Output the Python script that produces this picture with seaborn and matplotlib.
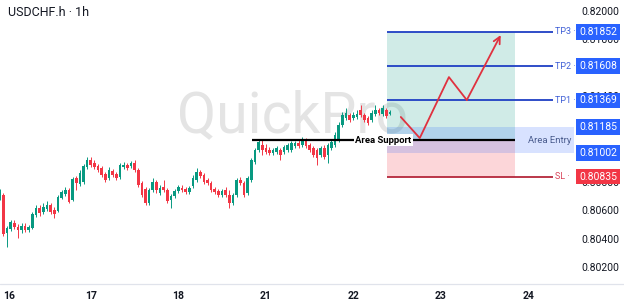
import numpy as np
import pandas as pd
import matplotlib
matplotlib.use("Agg")
import matplotlib.pyplot as plt
import matplotlib.transforms as mtransforms
from matplotlib.lines import Line2D
import seaborn as sns

# chart data (hourly candles, hour 0 = start of day 16)
title = "USDCHF.h · 1h"
day_ticks = [0, 24, 48, 72, 96, 120, 144]
day_labels = ["16", "17", "18", "21", "22", "23", "24"]
# 0.810 / 0.812 / 0.816 sit fully under the price tags, so they are left out
price_ticks = [0.802, 0.804, 0.806, 0.808, 0.814, 0.818, 0.820]

opens = [
    0.80684, 0.80705, 0.80438, 0.80466, 0.80509, 0.80481, 0.80459, 0.80488, 0.80459, 0.80474,
    0.80565, 0.80614, 0.80586, 0.80607, 0.80635, 0.80600, 0.80593, 0.80684, 0.80712, 0.80740,
    0.80670, 0.80824, 0.80782, 0.80796, 0.80902, 0.80951, 0.80930, 0.80909, 0.80895, 0.80853,
    0.80824, 0.80874, 0.80853, 0.80832, 0.80902, 0.80916, 0.80909, 0.80930, 0.80881, 0.80789,
    0.80747, 0.80649, 0.80740, 0.80796, 0.80719, 0.80761, 0.80740, 0.80670, 0.80698, 0.80733,
    0.80754, 0.80747, 0.80726, 0.80768, 0.80810, 0.80867, 0.80846, 0.80810, 0.80789, 0.80747,
    0.80733, 0.80705, 0.80740, 0.80705, 0.80649, 0.80705, 0.80810, 0.80789, 0.80719, 0.80810,
    0.80937, 0.81021, 0.81056, 0.81035, 0.81021, 0.81000, 0.81007, 0.81021, 0.81007, 0.81021,
    0.81021, 0.81049, 0.81070, 0.81056, 0.81091, 0.81056, 0.81035, 0.81021, 0.80986, 0.81035,
    0.80986, 0.81035, 0.81056, 0.81091, 0.81197, 0.81246, 0.81267, 0.81246, 0.81253, 0.81302,
    0.81267, 0.81246, 0.81232, 0.81274, 0.81302, 0.81274, 0.81302, 0.81274,
]
closes = [
    0.80726, 0.80431, 0.80474, 0.80516, 0.80481, 0.80459, 0.80488, 0.80459, 0.80481, 0.80572,
    0.80614, 0.80579, 0.80621, 0.80635, 0.80586, 0.80572, 0.80691, 0.80726, 0.80740, 0.80656,
    0.80817, 0.80789, 0.80860, 0.80909, 0.80951, 0.80916, 0.80902, 0.80881, 0.80846, 0.80810,
    0.80881, 0.80846, 0.80824, 0.80916, 0.80916, 0.80895, 0.80930, 0.80881, 0.80775, 0.80705,
    0.80649, 0.80740, 0.80796, 0.80740, 0.80754, 0.80740, 0.80663, 0.80698, 0.80733, 0.80761,
    0.80740, 0.80726, 0.80754, 0.80824, 0.80867, 0.80839, 0.80796, 0.80789, 0.80740, 0.80726,
    0.80705, 0.80733, 0.80705, 0.80649, 0.80705, 0.80810, 0.80789, 0.80705, 0.80824, 0.80951,
    0.81021, 0.81077, 0.81021, 0.81007, 0.81000, 0.81021, 0.81035, 0.80986, 0.81042, 0.81056,
    0.81070, 0.81070, 0.81049, 0.81091, 0.81049, 0.81021, 0.80986, 0.80965, 0.81035, 0.80972,
    0.81056, 0.81077, 0.81126, 0.81197, 0.81267, 0.81281, 0.81232, 0.81267, 0.81274, 0.81267,
    0.81232, 0.81211, 0.81281, 0.81302, 0.81281, 0.81316, 0.81260, 0.81288,
]
highs = [
    0.80747, 0.80719, 0.80488, 0.80530, 0.80530, 0.80502, 0.80509, 0.80509, 0.80495, 0.80586,
    0.80635, 0.80635, 0.80649, 0.80663, 0.80649, 0.80621, 0.80705, 0.80740, 0.80761, 0.80754,
    0.80832, 0.80839, 0.80881, 0.80923, 0.80972, 0.80972, 0.80951, 0.80923, 0.80909, 0.80867,
    0.80902, 0.80888, 0.80867, 0.80930, 0.80937, 0.80930, 0.80944, 0.80951, 0.80895, 0.80803,
    0.80761, 0.80754, 0.80824, 0.80810, 0.80775, 0.80810, 0.80754, 0.80712, 0.80747, 0.80775,
    0.80775, 0.80761, 0.80768, 0.80846, 0.80895, 0.80881, 0.80860, 0.80824, 0.80803, 0.80761,
    0.80747, 0.80747, 0.80761, 0.80740, 0.80719, 0.80824, 0.80832, 0.80803, 0.80839, 0.80965,
    0.81035, 0.81098, 0.81091, 0.81063, 0.81042, 0.81035, 0.81049, 0.81035, 0.81056, 0.81070,
    0.81084, 0.81084, 0.81091, 0.81112, 0.81105, 0.81070, 0.81049, 0.81035, 0.81049, 0.81056,
    0.81070, 0.81091, 0.81147, 0.81218, 0.81288, 0.81316, 0.81281, 0.81288, 0.81302, 0.81337,
    0.81281, 0.81260, 0.81302, 0.81337, 0.81316, 0.81337, 0.81316, 0.81302,
]
lows = [
    0.80670, 0.80417, 0.80340, 0.80452, 0.80466, 0.80403, 0.80438, 0.80445, 0.80445, 0.80466,
    0.80551, 0.80558, 0.80572, 0.80593, 0.80572, 0.80544, 0.80586, 0.80677, 0.80698, 0.80649,
    0.80663, 0.80740, 0.80768, 0.80782, 0.80888, 0.80902, 0.80888, 0.80867, 0.80832, 0.80796,
    0.80810, 0.80832, 0.80810, 0.80817, 0.80888, 0.80881, 0.80895, 0.80867, 0.80761, 0.80691,
    0.80635, 0.80635, 0.80726, 0.80719, 0.80705, 0.80726, 0.80649, 0.80614, 0.80684, 0.80719,
    0.80726, 0.80712, 0.80712, 0.80754, 0.80796, 0.80824, 0.80782, 0.80775, 0.80726, 0.80712,
    0.80691, 0.80691, 0.80691, 0.80614, 0.80635, 0.80691, 0.80775, 0.80691, 0.80705, 0.80796,
    0.80923, 0.81007, 0.80986, 0.80993, 0.80986, 0.80986, 0.80993, 0.80951, 0.80993, 0.81007,
    0.81007, 0.81035, 0.81035, 0.81042, 0.81035, 0.81007, 0.80972, 0.80916, 0.80972, 0.80958,
    0.80930, 0.81021, 0.81042, 0.81077, 0.81183, 0.81232, 0.81218, 0.81232, 0.81239, 0.81253,
    0.81218, 0.81197, 0.81218, 0.81260, 0.81267, 0.81260, 0.81246, 0.81267,
]
hours = np.arange(-1, len(opens) - 1)

# trade plan
entry_price = 0.81091
entry_top = 0.81185
entry_bottom = 0.81002
tp_names = ["TP1", "TP2", "TP3"]
tp_levels = [0.81369, 0.81608, 0.81852]
sl_level = 0.80835
plan_start, plan_end, label_end = 105.2, 140.3, 150.8
support_start = 68.2
path_hours = [109.0, 114.2, 122.2, 127.1, 136.4]
path_prices = [0.81253, 0.81105, 0.81533, 0.81372, 0.81828]

GREEN = "#089981"
RED = "#F23645"
BLUE = "#2962FF"

sns.set_theme(style="white")
plt.rcParams["font.family"] = ["Roboto", "DejaVu Sans"]

fig = plt.figure(figsize=(6.24, 3.05), dpi=100)
ax = fig.add_axes([0, 21 / 305, 574 / 624, 284 / 305])
ax.set_xlim(-0.9, 156.5)
ax.set_ylim(0.80081, 0.82074)

# watermark
ax.text(0.51, 0.59, "QuickPro", transform=ax.transAxes, ha="center", va="center",
        fontsize=41, color="#e4e4e4", zorder=0)

# candles
df = pd.DataFrame({"hour": hours, "open": opens, "close": closes, "high": highs, "low": lows})
colors = np.where(df["close"] >= df["open"], GREEN, RED)
body_low = df[["open", "close"]].min(axis=1)
body_h = (df["close"] - df["open"]).abs().clip(lower=0.00004)
ax.vlines(df["hour"], df["low"], df["high"], colors=colors, lw=0.7, zorder=3)
ax.bar(df["hour"], body_h, bottom=body_low, width=0.72, color=colors, lw=0, zorder=4)

# plan zones
ax.fill_between([plan_start, plan_end], entry_price, tp_levels[-1], color=GREEN, alpha=0.19, lw=0, zorder=1)
ax.fill_between([plan_start, plan_end], sl_level, entry_price, color=RED, alpha=0.2, lw=0, zorder=1)
ax.fill_between([plan_start, 156.5], entry_bottom, entry_top, color=BLUE, alpha=0.18, lw=0, zorder=1)

ax.hlines(tp_levels, plan_start, label_end, color="#1f3fc4", lw=1.3, zorder=5)
ax.hlines(sl_level, plan_start, label_end, color="#b5283b", lw=1.3, zorder=5)
ax.hlines(entry_price, support_start, plan_end, color="black", lw=1.6, zorder=5)
ax.text(104.2, entry_price, "Area Support", ha="center", va="center", fontsize=6.8,
        fontweight="bold", color="black", zorder=6,
        bbox=dict(boxstyle="square,pad=0.15", fc="white", ec="none"))
ax.text(149.9, entry_price, "Area Entry", ha="center", va="center", fontsize=6.8,
        color="#4b5d8f", zorder=6)

# expected path
sns.lineplot(x=path_hours[:-1], y=path_prices[:-1], ax=ax, color="#e0313f", lw=1.3, sort=False, zorder=7)
ax.annotate("", xy=(path_hours[-1], path_prices[-1]), xytext=(path_hours[-2], path_prices[-2]),
            arrowprops=dict(arrowstyle="->", color="#e0313f", lw=1.3, mutation_scale=12,
                            shrinkA=0, shrinkB=0), zorder=7)

# axes styling
ax.yaxis.tick_right()
ax.set_yticks(price_ticks)
ax.set_yticklabels([f"{v:.5f}" for v in price_ticks])
ax.tick_params(axis="y", length=0, pad=5, labelsize=7.5, labelcolor="#131722")
ax.set_xticks(day_ticks)
ax.set_xticklabels(day_labels, fontweight="bold")
ax.get_xticklabels()[0].set_horizontalalignment("left")
ax.tick_params(axis="x", length=0, pad=5, labelsize=7.5, labelcolor="#131722")
for s in ax.spines.values():
    s.set_visible(False)
fig.add_artist(Line2D([0, 1], [21 / 305, 21 / 305], color="#e0e3eb", lw=0.9))

# price tags on the right
trans = mtransforms.blended_transform_factory(ax.transAxes, ax.transData)
for name, lvl in zip(tp_names, tp_levels):
    ax.text(label_end + 0.4, lvl, name + " ·", ha="left", va="center", fontsize=6.5,
            color="#3f5fd6", zorder=6)
    ax.text(1.009, lvl, f"{lvl:.5f}", transform=trans, ha="left", va="center", fontsize=7.5,
            color="white", zorder=8, bbox=dict(boxstyle="square,pad=0.28", fc=BLUE, ec="none"))
ax.text(label_end + 0.4, sl_level, "SL ·", ha="left", va="center", fontsize=6.5,
        color="#d9455a", zorder=6)
ax.text(1.009, sl_level, f"{sl_level:.5f}", transform=trans, ha="left", va="center", fontsize=7.5,
        color="white", zorder=8, bbox=dict(boxstyle="square,pad=0.28", fc=RED, ec="none"))
for lvl in [entry_top, entry_bottom]:
    ax.text(1.009, lvl, f"{lvl:.5f}", transform=trans, ha="left", va="center", fontsize=7.5,
            color="white", zorder=8, bbox=dict(boxstyle="square,pad=0.28", fc=BLUE, ec="none"))

fig.text(8 / 624, 1 - 12 / 305, title, fontsize=9, va="center", color="#131722")

fig.savefig("out.png", dpi=100, facecolor="white")
